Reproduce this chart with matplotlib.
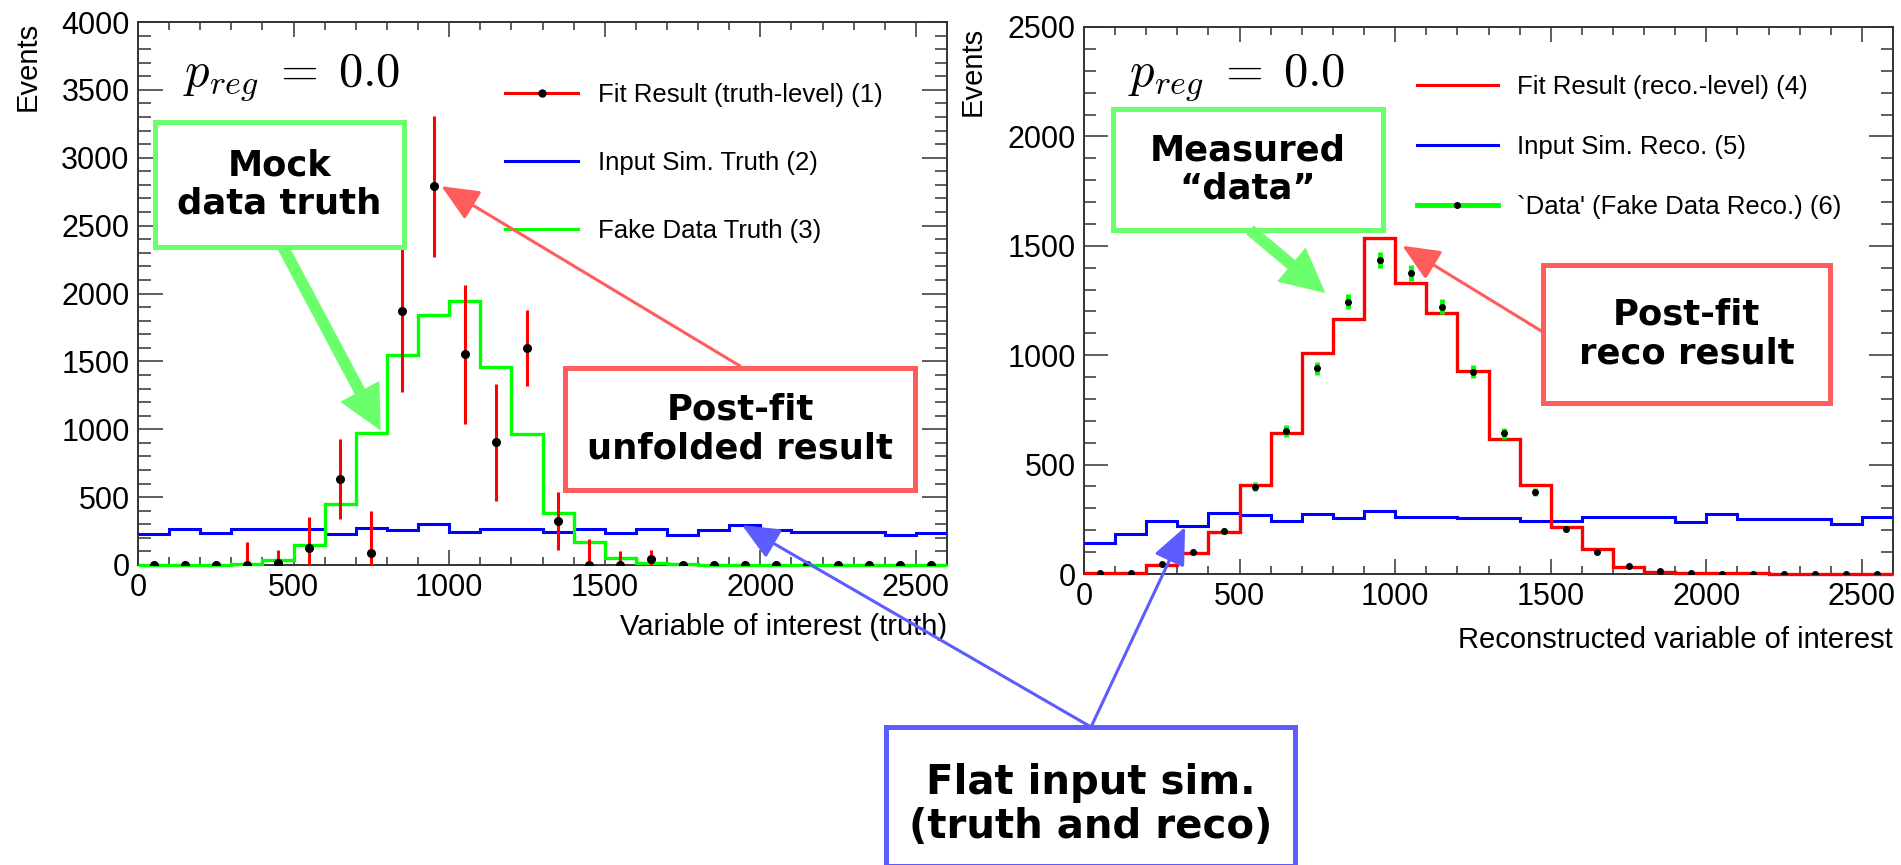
import numpy as np
import matplotlib
matplotlib.use("Agg")
import matplotlib.pyplot as plt
from matplotlib.lines import Line2D
from matplotlib.patches import Rectangle, ConnectionPatch

W, H = 1901, 865
plt.rcParams["font.family"] = ["Liberation Sans", "DejaVu Sans"]
plt.rcParams["mathtext.fontset"] = "cm"

# -----------------------------
# data (100-wide bins from 0 to 2600)
# -----------------------------
edges = np.arange(0, 2700, 100)
centers = edges[:-1] + 50

# left panel: truth level
fake_truth = [0, 0, 3, 8, 40, 150, 450, 975, 1545, 1845, 1945, 1460, 965,
              385, 170, 50, 15, 8, 2, 0, 0, 0, 0, 0, 0, 0]
sim_truth = [225, 263, 235, 263, 263, 263, 226, 275, 258, 302, 245, 263, 263,
             245, 263, 233, 263, 221, 258, 294, 258, 245, 245, 245, 221, 238]
fit_truth = [0, 0, 0, 0, 17, 123, 636, 91, 1873, 2791, 1551, 903, 1595,
             326, 0, 0, 42, 0, 0, 0, 0, 0, 0, 0, 0, 0]
fit_truth_err = [5, 5, 25, 170, 90, 230, 295, 310, 600, 520, 510, 430, 280,
                 215, 190, 105, 68, 20, 15, 15, 10, 10, 8, 8, 8, 8]

# right panel: reco level
fit_reco = [3, 5, 41, 97, 193, 407, 646, 1010, 1164, 1534, 1328, 1191, 929,
            617, 407, 216, 113, 33, 10, 5, 4, 3, 2, 2, 1, 0]
sim_reco = [140, 181, 244, 219, 277, 270, 244, 274, 255, 290, 262, 262, 254,
            254, 242, 242, 262, 262, 262, 239, 272, 250, 250, 250, 229, 262]
data_reco = [3, 5, 45, 99, 198, 399, 654, 940, 1245, 1435, 1374, 1222, 925,
             643, 376, 204, 102, 38, 12, 5, 2, 1, 0, 0, 0, 0]
data_reco_err = [2, 2, 7, 10, 14, 20, 26, 31, 35, 38, 37, 35, 30,
                 25, 19, 14, 10, 6, 3, 2, 1, 1, 0, 0, 0, 0]

RED, BLUE, GREEN = "#ff0000", "#0000ff", "#00ff00"
BOX_RED, BOX_GREEN, BOX_BLUE = "#ff5c5c", "#6cff6c", "#5c5cff"


def fx(x):
    return x / W


def fy(y):
    return 1 - y / H


def style_axes(ax, ymax, ymajor_len):
    ax.set_xlim(0, 2600)
    ax.set_ylim(0, ymax)
    ax.set_xticks(np.arange(0, 2600, 500))
    ax.set_xticks(np.arange(0, 2601, 100), minor=True)
    ax.set_yticks(np.arange(0, ymax + 1, 500))
    ax.set_yticks(np.arange(0, ymax + 1, 100), minor=True)
    ax.tick_params(which="both", direction="in", top=True, right=True,
                   labelsize=22, color="#333333", width=1.1, pad=6)
    ax.tick_params(axis="y", which="major", length=ymajor_len)
    ax.tick_params(axis="y", which="minor", length=ymajor_len / 2)
    ax.tick_params(axis="x", which="major", length=11)
    ax.tick_params(axis="x", which="minor", length=5.5)
    for s in ax.spines.values():
        s.set_linewidth(1.4)
        s.set_color("#333333")


fig = plt.figure(figsize=(W / 100, H / 100), dpi=100)

# -----------------------------
# left panel
# -----------------------------
ax1 = fig.add_axes([fx(138), fy(565), (947 - 138) / W, (565 - 22) / H])
ax1.stairs(sim_truth, edges, color=BLUE, lw=2.2, baseline=None, zorder=3)
ax1.stairs(fake_truth, edges, color=GREEN, lw=2.4, baseline=None, zorder=3,
           clip_on=False)
ax1.errorbar(centers, fit_truth, yerr=fit_truth_err, fmt="o", color=RED,
             ecolor=RED, elinewidth=2.2, mfc="black", mec="black", ms=5.5,
             capsize=0, zorder=5)
style_axes(ax1, 4000, 18)
ax1.set_ylabel("Events", fontsize=21, loc="top")
ax1.yaxis.set_label_coords(-0.119, 1)
ax1.set_xlabel("Variable of interest (truth)", fontsize=21, loc="right")
ax1.xaxis.set_label_coords(1, -0.088)

h1 = [Line2D([], [], color=RED, lw=2.2, marker="o", mfc="black", mec="black", ms=5),
      Line2D([], [], color=BLUE, lw=2.2),
      Line2D([], [], color=GREEN, lw=2.2)]
ax1.legend(h1, ["Fit Result (truth-level) (1)", "Input Sim. Truth (2)",
                "Fake Data Truth (3)"],
           loc="upper left", bbox_to_anchor=(fx(505), fy(83)),
           bbox_transform=fig.transFigure, frameon=False, fontsize=18.5,
           borderpad=0, borderaxespad=0, handlelength=2.85,
           handletextpad=0.75, labelspacing=1.72)

# -----------------------------
# right panel
# -----------------------------
ax2 = fig.add_axes([fx(1084), fy(574), (1893 - 1084) / W, (574 - 27) / H])
ax2.stairs(sim_reco, edges, color=BLUE, lw=2.2, baseline=None, zorder=3)
ax2.stairs(fit_reco, edges, color=RED, lw=2.4, baseline=None, zorder=3,
           clip_on=False)
ax2.errorbar(centers, data_reco, yerr=data_reco_err, fmt="o", color=GREEN,
             ecolor=GREEN, elinewidth=3.5, mfc="black", mec="black", ms=4,
             capsize=0, zorder=5)
style_axes(ax2, 2500, 17)
ax2.set_ylabel("Events", fontsize=21, loc="top")
ax2.yaxis.set_label_coords(-0.12, 1)
ax2.set_xlabel("Reconstructed variable of interest", fontsize=21, loc="right")
ax2.xaxis.set_label_coords(1, -0.095)

h2 = [Line2D([], [], color=RED, lw=2.2),
      Line2D([], [], color=BLUE, lw=2.2),
      Line2D([], [], color=GREEN, lw=3.5, marker="o", mfc="black", mec="black", ms=4)]
ax2.legend(h2, ["Fit Result (reco.-level) (4)", "Input Sim. Reco. (5)",
                "`Data' (Fake Data Reco.) (6)"],
           loc="upper left", bbox_to_anchor=(fx(1417), fy(75)),
           bbox_transform=fig.transFigure, frameon=False, fontsize=18.5,
           borderpad=0, borderaxespad=0, handlelength=3.15,
           handletextpad=0.75, labelspacing=1.4)

# p_reg labels
for x0 in (183, 1128):
    fig.text(fx(x0), fy(77), r"$p_{reg}\;=\;0.0$", fontsize=35,
             ha="left", va="center")

# -----------------------------
# callout boxes and arrows
# -----------------------------
def box(x0, y0, x1, y1, color, text, cy=None, size=25.5):
    fig.add_artist(Rectangle((fx(x0), fy(y1)), (x1 - x0) / W, (y1 - y0) / H,
                             transform=fig.transFigure, facecolor="white",
                             edgecolor=color, lw=3.6, zorder=4))
    cy = (y0 + y1) / 2 if cy is None else cy
    fig.text(fx((x0 + x1) / 2), fy(cy), text, ha="center", va="center",
             fontsize=size, fontweight="bold", family="DejaVu Sans",
             linespacing=1.15, zorder=5)


def arrow(start, ax, target, color, thick=False):
    if thick:
        style = "simple,head_length=1.6,head_width=1.6,tail_width=0.42"
        scale = 20
    else:
        style = "-|>,head_length=0.5,head_width=0.22"
        scale = 46
    con = ConnectionPatch(xyA=(start[0], H - start[1]), coordsA="figure pixels",
                          xyB=target, coordsB=ax.transData,
                          arrowstyle=style, mutation_scale=scale,
                          color=color, lw=0 if thick else 2.2,
                          shrinkA=0, shrinkB=0, zorder=6)
    fig.add_artist(con)


box(155, 122, 404, 247, BOX_GREEN, "Mock\ndata truth")
arrow((283, 247), ax1, (780, 990), BOX_GREEN, thick=True)

box(565, 368, 915, 490, BOX_RED, "Post-fit\nunfolded result")
arrow((740, 366), ax1, (975, 2790), BOX_RED)

box(1113, 109, 1383, 230, BOX_GREEN, "Measured\n\u201cdata\u201d")
arrow((1250, 230), ax2, (776, 1284), BOX_GREEN, thick=True)

box(1543, 265, 1830, 403, BOX_RED, "Post-fit\nreco result")
arrow((1543, 332), ax2, (1023, 1500), BOX_RED)

box(886, 727, 1295, 866, BOX_BLUE, "Flat input sim.\n(truth and reco)",
    cy=805, size=29)
arrow((1091, 727), ax1, (1941, 294), BOX_BLUE)
arrow((1091, 727), ax2, (325, 215), BOX_BLUE)

fig.savefig("out.png", dpi=100)
